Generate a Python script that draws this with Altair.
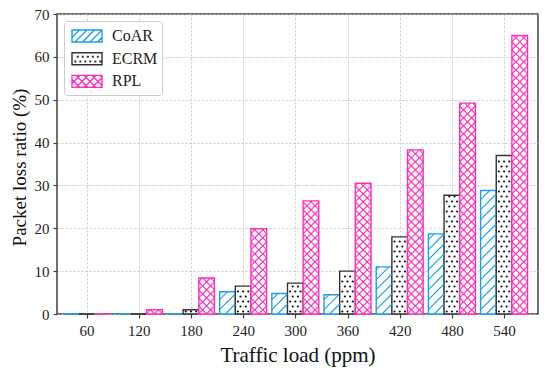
import altair as alt
import pandas as pd

# ---------------- data ----------------
loads = [60, 120, 180, 240, 300, 360, 420, 480, 540]
coar = [0.0, 0.0, 0.0, 5.2, 4.8, 4.5, 11.0, 18.7, 28.8]
ecrm = [0.0, 0.0, 1.0, 6.5, 7.2, 10.0, 18.0, 27.7, 37.0]
rpl = [0.0, 1.0, 8.4, 19.9, 26.4, 30.5, 38.3, 49.2, 65.0]
series_names = ["CoAR", "ECRM", "RPL"]
series_colors = ["#1A9FF0", "#333333", "#FF2FB8"]
x_ticks = loads
y_ticks = [0, 10, 20, 30, 40, 50, 60, 70]

rows = []
for i, (name, vals) in enumerate(zip(series_names, [coar, ecrm, rpl])):
    for load, v in zip(loads, vals):
        rows.append({"load": load, "series": name, "idx": i, "value": v,
                     "col": series_colors[i]})
df = pd.DataFrame(rows)

# ---------------- style / geometry ----------------
W, H = 481, 300
X_DOM = [26, 579]
Y_DOM = [0, 70]
BAR_W = 18.0
kx = W / (X_DOM[1] - X_DOM[0])      # px per x unit
ky = H / (Y_DOM[1] - Y_DOM[0])      # px per y unit
HY = BAR_W * kx / ky                # y-units rise over one bar width at 45deg
SP_COAR = 10.0 / ky                 # stripe spacing (vertical) in y units
SP_RPL = 8.0 / ky
DY = 5.0 / ky                       # dot row spacing
FONT = "Liberation Serif"

xscale = alt.Scale(domain=X_DOM, nice=False, zero=False)
yscale = alt.Scale(domain=Y_DOM, nice=False)
XT = "Traffic load (ppm)"
YT = "Packet loss ratio (%)"

xaxis = alt.Axis(values=x_ticks, title=XT, titleY=30, titleBaseline="top",
                 labelPadding=5, format="d")
yaxis = alt.Axis(values=y_ticks, title=YT, titleX=-32, titleY=153,
                 titleBaseline="alphabetic", labelPadding=4)

base = alt.Chart(df).transform_calculate(
    xl=f"datum.load + (datum.idx - 1) * {BAR_W} - {BAR_W / 2}",
).transform_calculate(
    xr=f"datum.xl + {BAR_W}"
)

bars = base.mark_bar(fill="white", strokeWidth=1.4).encode(
    x=alt.X("xl:Q", scale=xscale, axis=xaxis),
    x2="xr:Q",
    y=alt.Y("value:Q", scale=yscale, axis=yaxis),
    y2=alt.datum(0),
    stroke=alt.Stroke("col:N", scale=None),
)

# diagonal hatch lines (CoAR: "/", RPL: "x")
hatch = base.transform_filter(
    "datum.series != 'ECRM'"
).transform_calculate(
    dir="datum.series == 'CoAR' ? [1] : [1, -1]",
    sp=f"datum.series == 'CoAR' ? {SP_COAR} : {SP_RPL}",
).transform_flatten(["dir"]).transform_calculate(
    k=f"sequence(0, ceil((datum.value + {HY}) / datum.sp) + 1)"
).transform_flatten(["k"]).transform_calculate(
    s=f"datum.k * datum.sp - {HY}"
).transform_calculate(
    ya="max(datum.s, 0)",
    yb=f"min(datum.s + {HY}, datum.value)",
).transform_filter(
    "datum.yb - datum.ya > 0.02"
).transform_calculate(
    xa=f"datum.dir == 1 ? datum.xl + (datum.ya - datum.s) * {BAR_W / HY} : datum.xr - (datum.ya - datum.s) * {BAR_W / HY}",
    xb=f"datum.dir == 1 ? datum.xl + (datum.yb - datum.s) * {BAR_W / HY} : datum.xr - (datum.yb - datum.s) * {BAR_W / HY}",
).mark_rule(strokeWidth=1.1).encode(
    x=alt.X("xa:Q", scale=xscale, title=XT),
    x2="xb:Q",
    y=alt.Y("ya:Q", scale=yscale, title=YT),
    y2="yb:Q",
    stroke=alt.Stroke("col:N", scale=None),
)

# dotted hatch (ECRM)
dots = base.transform_filter(
    "datum.series == 'ECRM' && datum.value > 0"
).transform_calculate(
    r=f"sequence(0, floor(datum.value / {DY}) + 1)"
).transform_flatten(["r"]).transform_calculate(
    cx="datum.r % 2 == 0 ? [3, 9, 15] : [6, 12]",
    yy=f"(datum.r + 0.5) * {DY}",
).transform_flatten(["cx"]).transform_filter(
    "datum.yy < datum.value - 0.25"
).transform_calculate(
    xx="datum.xl + datum.cx"
).mark_circle(size=5, color="#111111", opacity=1).encode(
    x=alt.X("xx:Q", scale=xscale, title=XT),
    y=alt.Y("yy:Q", scale=yscale, title=YT),
)


# legend symbols (hatched rectangles as SVG paths)
def stripes(direction, step, x0=-1.5, x1=1.5, y0=-0.6, y1=0.6):
    h = y1 - y0
    segs = []
    c = x0 - h
    while c < x1:
        t0 = max(0.0, x0 - c)
        t1 = min(h, x1 - c)
        if t1 > t0 + 1e-6:
            if direction == 1:
                segs.append(f"M{c + t0:.3f},{y1 - t0:.3f}L{c + t1:.3f},{y1 - t1:.3f}")
            else:
                segs.append(f"M{c + t0:.3f},{y0 + t0:.3f}L{c + t1:.3f},{y0 + t1:.3f}")
        c += step
    return "".join(segs)


RECT = "M-1.5,-0.6H1.5V0.6H-1.5Z"
dot_parts = []
for j in range(6):
    x = -1.2 + j * 0.5
    dot_parts.append(f"M{x:.2f},0.25h0.06v0.06h-0.06Z")
for j in range(5):
    x = -0.95 + j * 0.5
    dot_parts.append(f"M{x:.2f},-0.22h0.06v0.06h-0.06Z")
shape_coar = RECT + stripes(1, 0.75)
shape_ecrm = RECT + "".join(dot_parts)
shape_rpl = RECT + stripes(1, 0.8) + stripes(-1, 0.8)

legend_layer = alt.Chart(df).transform_filter("false").mark_point(
    filled=True, fill="white", opacity=1, size=400, strokeWidth=1.4
).encode(
    x=alt.X("load:Q", scale=xscale, title=XT),
    y=alt.Y("value:Q", scale=yscale, title=YT),
    stroke=alt.Stroke("series:N",
                      scale=alt.Scale(domain=series_names, range=series_colors),
                      legend=alt.Legend(title=None)),
    shape=alt.Shape("series:N",
                    scale=alt.Scale(domain=series_names,
                                    range=[shape_coar, shape_ecrm, shape_rpl]),
                    legend=alt.Legend(title=None)),
)

chart = alt.layer(bars, hatch, dots, legend_layer).properties(
    width=W, height=H,
    autosize=alt.AutoSizeParams(type="none"),
    padding={"left": 49, "top": 6, "right": 4, "bottom": 54},
).configure(
    font=FONT,
).configure_view(
    stroke="#404040", strokeWidth=1.5,
).configure_axis(
    domain=False,
    grid=True, gridColor="#c4c4c4", gridDash=[2, 2], gridWidth=0.9,
    ticks=True, tickColor="#404040", tickSize=4, tickWidth=1.2,
    labelFont=FONT, labelFontSize=15, labelColor="#222222",
    titleFont=FONT, titleFontSize=21, titleFontWeight="normal", titleColor="#111111",
).configure_axisY(
    titleFontSize=19,
).configure_legend(
    orient="top-left", offset=7, padding=4,
    symbolOffset=8, labelOffset=14, symbolSize=400, symbolStrokeWidth=1.4,
    symbolFillColor="white", symbolOpacity=1,
    labelFont=FONT, labelFontSize=16, labelColor="#222222",
    fillColor="white", strokeColor="#cccccc", cornerRadius=3, rowPadding=2.7,
)

chart.save("out.html", embed_options={"renderer": "svg", "actions": False})
